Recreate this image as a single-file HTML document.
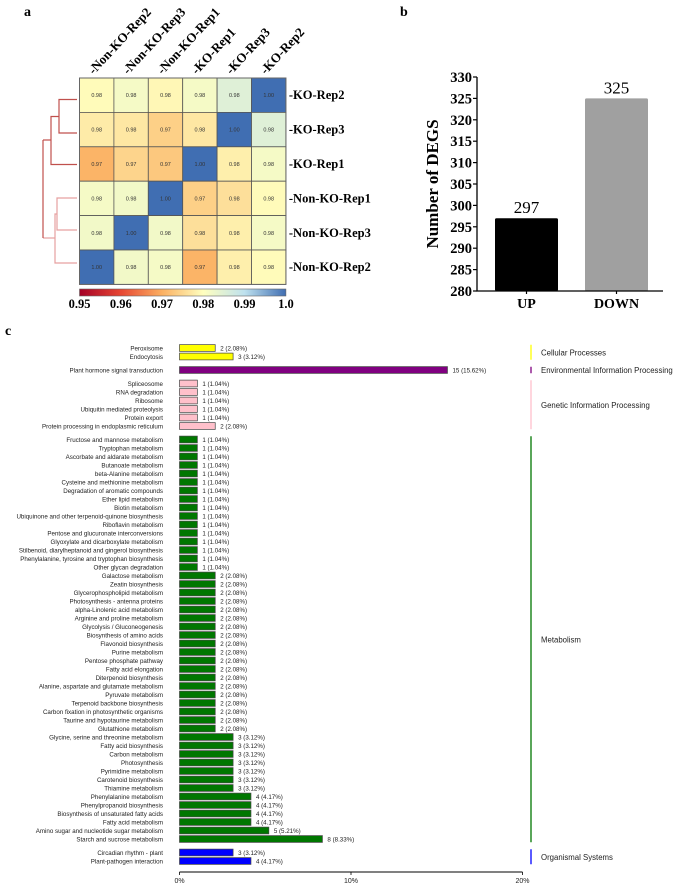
<!DOCTYPE html>
<html><head><meta charset="utf-8">
<style>
html,body{margin:0;padding:0;background:#fff;}
svg{display:block;}
</style></head>
<body>
<svg id="fig" width="685" height="886" viewBox="0 0 685 886" xmlns="http://www.w3.org/2000/svg">
<text x="24" y="16" font-family="Liberation Serif" font-weight="bold" font-size="14">a</text>
<text x="400" y="16" font-family="Liberation Serif" font-weight="bold" font-size="14">b</text>
<text x="5" y="335" font-family="Liberation Serif" font-weight="bold" font-size="14">c</text>
<g id="heat"></g>
<g id="dendro"></g>
<g id="bars"></g>
<g id="kegg"></g>
</svg>
<script>
// ---------- Panel a data ----------
const heatLabels = ["-Non-KO-Rep2","-Non-KO-Rep3","-Non-KO-Rep1","-KO-Rep1","-KO-Rep3","-KO-Rep2"];
const rowLabels = ["-KO-Rep2","-KO-Rep3","-KO-Rep1","-Non-KO-Rep1","-Non-KO-Rep3","-Non-KO-Rep2"];
const corrRow0 = [0.9795,0.9815,0.979,0.9815,0.985,1.0];
const corrRow1 = [0.9775,0.977,0.974,0.977,1.0,0.985];
const corrRow2 = [0.9705,0.9745,0.973,1.0,0.978,0.9815];
const corrRow3 = [0.9815,0.982,1.0,0.974,0.976,0.9795];
const corrRow4 = [0.982,1.0,0.982,0.976,0.978,0.9815];
const corrRow5 = [1.0,0.982,0.9815,0.9705,0.978,0.9795];
const corrRows = [corrRow0,corrRow1,corrRow2,corrRow3,corrRow4,corrRow5];
const scaleTicks = ["0.95","0.96","0.97","0.98","0.99","1.0"];

// ---------- Panel b data ----------
const degCats = ["UP","DOWN"];
const degVals = [297,325];
const degTicks = [280,285,290,295,300,305,310,315,320,325,330];

// ---------- Panel c data ----------
const keggNames = ["Peroxisome","Endocytosis","Plant hormone signal transduction","Spliceosome","RNA degradation","Ribosome","Ubiquitin mediated proteolysis","Protein export","Protein processing in endoplasmic reticulum","Fructose and mannose metabolism","Tryptophan metabolism","Ascorbate and aldarate metabolism","Butanoate metabolism","beta-Alanine metabolism","Cysteine and methionine metabolism","Degradation of aromatic compounds","Ether lipid metabolism","Biotin metabolism","Ubiquinone and other terpenoid-quinone biosynthesis","Riboflavin metabolism","Pentose and glucuronate interconversions","Glyoxylate and dicarboxylate metabolism","Stilbenoid, diarylheptanoid and gingerol biosynthesis","Phenylalanine, tyrosine and tryptophan biosynthesis","Other glycan degradation","Galactose metabolism","Zeatin biosynthesis","Glycerophospholipid metabolism","Photosynthesis - antenna proteins","alpha-Linolenic acid metabolism","Arginine and proline metabolism","Glycolysis / Gluconeogenesis","Biosynthesis of amino acids","Flavonoid biosynthesis","Purine metabolism","Pentose phosphate pathway","Fatty acid elongation","Diterpenoid biosynthesis","Alanine, aspartate and glutamate metabolism","Pyruvate metabolism","Terpenoid backbone biosynthesis","Carbon fixation in photosynthetic organisms","Taurine and hypotaurine metabolism","Glutathione metabolism","Glycine, serine and threonine metabolism","Fatty acid biosynthesis","Carbon metabolism","Photosynthesis","Pyrimidine metabolism","Carotenoid biosynthesis","Thiamine metabolism","Phenylalanine metabolism","Phenylpropanoid biosynthesis","Biosynthesis of unsaturated fatty acids","Fatty acid metabolism","Amino sugar and nucleotide sugar metabolism","Starch and sucrose metabolism","Circadian rhythm - plant","Plant-pathogen interaction"];
const keggCounts = [2,3,15,1,1,1,1,1,2,1,1,1,1,1,1,1,1,1,1,1,1,1,1,1,1,2,2,2,2,2,2,2,2,2,2,2,2,2,2,2,2,2,2,2,3,3,3,3,3,3,3,4,4,4,4,5,8,3,4];
const keggGroupOf = [0,0,1,2,2,2,2,2,2,3,3,3,3,3,3,3,3,3,3,3,3,3,3,3,3,3,3,3,3,3,3,3,3,3,3,3,3,3,3,3,3,3,3,3,3,3,3,3,3,3,3,3,3,3,3,3,3,4,4];
const groupNames = ["Cellular Processes","Environmental Information Processing","Genetic Information Processing","Metabolism","Organismal Systems"];
const groupColors = ["#ffff00","#800080","#ffc0cb","#007700","#0000ff"];
const totalGenes = 96;
const pctTicks = [0,10,20];

const NS="http://www.w3.org/2000/svg";
function mk(parent,tag,attrs,text){const e=document.createElementNS(NS,tag);for(const k in attrs)e.setAttribute(k,attrs[k]);if(text!==undefined)e.textContent=text;parent.appendChild(e);return e;}
function fmt2(p){const r=p*100;const f=Math.floor(r);const d=r-f;let n;if(Math.abs(d-0.5)<1e-7){n=(f%2===0)?f:f+1;}else{n=Math.round(r);}return (n/100).toFixed(2);}

// ---------- heatmap ----------
(function(){
  const g=document.getElementById('heat');
  const x0=79.5,y0=78,cs=34.4;
  const stops=[[0.95,[165,0,38]],[0.96,[230,70,50]],[0.97,[251,176,98]],[0.98,[255,255,191]],[0.99,[190,225,238]],[1.0,[64,110,178]]];
  function col(v){
    if(v<=stops[0][0])return 'rgb('+stops[0][1]+')';
    for(let i=1;i<stops.length;i++){if(v<=stops[i][0]){const a=stops[i-1],b=stops[i];const t=(v-a[0])/(b[0]-a[0]);const c=a[1].map((q,j)=>Math.round(q+(b[1][j]-q)*t));return 'rgb('+c.join(',')+')';}}
    return 'rgb('+stops[stops.length-1][1]+')';
  }
  corrRows.forEach((row,r)=>{row.forEach((v,c)=>{
    const cell=mk(g,'rect',{x:x0+c*cs,y:y0+r*cs,width:cs,height:cs,fill:col(v),stroke:'#555','stroke-width':0.8});
    
    
    const t=mk(g,'text',{x:x0+c*cs+cs/2,y:y0+r*cs+cs/2+2,'text-anchor':'middle','font-family':'Liberation Sans','font-size':5.5,fill:'#333'},v.toFixed(2));
    
    
  });});
  mk(g,'rect',{x:x0,y:y0,width:cs*6,height:cs*6,fill:'none',stroke:'#666','stroke-width':1});
  rowLabels.forEach((l,r)=>{
    const t=mk(g,'text',{x:x0+cs*6+3,y:y0+r*cs+cs/2+4,'font-family':'Liberation Serif','font-weight':'bold','font-size':12.5},l);
    
    
  });
  heatLabels.forEach((l,c)=>{
    const cx=x0+c*cs+cs/2-3, cy=y0-3;
    const t=mk(g,'text',{x:cx,y:cy,transform:'rotate(-47 '+cx+' '+cy+')','font-family':'Liberation Serif','font-weight':'bold','font-size':13},l);
    
    
  });
  const defs=mk(g,'defs',{});
  const lg=mk(defs,'linearGradient',{id:'cb',x1:0,x2:1,y1:0,y2:0});
  stops.forEach(s=>mk(lg,'stop',{offset:((s[0]-0.95)/0.05),'stop-color':'rgb('+s[1]+')'}));
  const cb=mk(g,'rect',{x:x0,y:289,width:cs*6,height:7,fill:'url(#cb)',stroke:'#666','stroke-width':0.6});
  
  
  scaleTicks.forEach((s,i)=>{
    const t=mk(g,'text',{x:x0+i*cs*6/5,y:308,'text-anchor':'middle','font-family':'Liberation Serif','font-weight':'bold','font-size':12.5},s);
    
    
  });
})();

// ---------- dendrogram ----------
(function(){
  const g=document.getElementById('dendro');
  const dk='#c0504d', lt='#e6a0a0';
  const segs=[
    ['M77 99.5H59V133H77',dk],['M59 116.5H51V164.5H77',dk],['M51 140H43',dk],
    ['M77 198H57V230H77',lt],['M57 214H55V263H77',lt],['M55 238H43',lt],['M43 140V238',dk]
  ];
  segs.forEach(s=>{const p=mk(g,'path',{d:s[0],fill:'none',stroke:s[1],'stroke-width':1.2});
    
    });
})();

// ---------- bar chart b ----------
(function(){
  const g=document.getElementById('bars');
  const ax=477,yTop=77,yBot=291,vmin=280,vmax=330;
  const y=v=>yBot-(v-vmin)/(vmax-vmin)*(yBot-yTop);
  const bx=[495,585], bw=63, cols=['#000000','#a0a0a0'];
  degVals.forEach((v,i)=>{
    const r=mk(g,'rect',{x:bx[i],y:y(v),width:bw,height:yBot-y(v),rx:1.5,fill:cols[i]});
    
    
    const t=mk(g,'text',{x:bx[i]+bw/2,y:y(v)-5,'text-anchor':'middle','font-family':'Liberation Serif','font-size':17},String(v));
    
    
    const xl=mk(g,'text',{x:bx[i]+bw/2,y:308,'text-anchor':'middle','font-family':'Liberation Serif','font-weight':'bold','font-size':14},degCats[i]);
    
    
  });
  mk(g,'path',{d:'M'+ax+' '+yTop+'V'+yBot+'H663',stroke:'#000','stroke-width':1.3,fill:'none'});
  degTicks.forEach(v=>{
    mk(g,'line',{x1:ax-4,x2:ax,y1:y(v),y2:y(v),stroke:'#000','stroke-width':1.2});
    const t=mk(g,'text',{x:ax-5,y:y(v)+5,'text-anchor':'end','font-family':'Liberation Serif','font-weight':'bold','font-size':14.5},String(v));
    
    
  });
  bx.forEach(x=>mk(g,'line',{x1:x+bw/2,x2:x+bw/2,y1:yBot,y2:yBot+3,stroke:'#000','stroke-width':1.2}));
  const yt=mk(g,'text',{x:438,y:184,transform:'rotate(-90 438 184)','text-anchor':'middle','font-family':'Liberation Serif','font-weight':'bold','font-size':17},'Number of DEGS');
  
  
})();

// ---------- KEGG bar chart c ----------
(function(){
  const g=document.getElementById('kegg');
  const x0=179.5, pxPct=17.15, step=8.5, gap=5, bh=6.8;
  const xs=p=>x0+p*pxPct;
  let yy=348, ys=[];
  keggNames.forEach((n,i)=>{ if(i>0){yy+=step; if(keggGroupOf[i]!==keggGroupOf[i-1])yy+=gap;} ys.push(yy); });
  keggNames.forEach((n,i)=>{
    const p=keggCounts[i]/totalGenes*100;
    const gi=keggGroupOf[i];
    const r=mk(g,'rect',{x:x0,y:ys[i]-bh/2,width:xs(p)-x0,height:bh,fill:groupColors[gi],stroke:'#444','stroke-width':0.7});
    
    
    const l=mk(g,'text',{x:163,y:ys[i]+2.3,'text-anchor':'end','font-family':'Liberation Sans','font-size':6.2,fill:'#222'},n);
    
    
    const v=mk(g,'text',{x:xs(p)+5,y:ys[i]+2.3,'font-family':'Liberation Sans','font-size':6.2,fill:'#222'},keggCounts[i]+' ('+fmt2(p)+'%)');
    
    
  });
  const ay=872;
  mk(g,'line',{x1:x0,x2:xs(20),y1:ay,y2:ay,stroke:'#000','stroke-width':1});
  pctTicks.forEach(t=>{
    mk(g,'line',{x1:xs(t),x2:xs(t),y1:ay,y2:ay+3,stroke:'#000','stroke-width':0.8});
    const tl=mk(g,'text',{x:xs(t),y:883,'text-anchor':'middle','font-family':'Liberation Sans','font-size':7,fill:'#222'},t+'%');
    
    
  });
  groupNames.forEach((n,gi)=>{
    const idx=keggGroupOf.map((q,i)=>q===gi?i:-1).filter(i=>i>=0);
    const y1=ys[idx[0]]-step/2+1, y2=ys[idx[idx.length-1]]+step/2-1;
    const ln=mk(g,'line',{x1:531,x2:531,y1:y1,y2:y2,stroke:groupColors[gi],'stroke-width':1.3});
    
    
    const t=mk(g,'text',{x:541,y:(y1+y2)/2+3,'font-family':'Liberation Sans','font-size':7.8,fill:'#222'},n);
    
    
  });
})();
</script>
</body></html>
